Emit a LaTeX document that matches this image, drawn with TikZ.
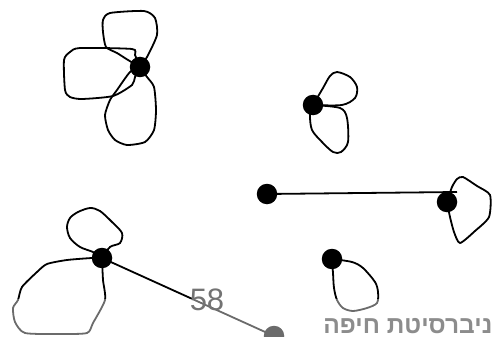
\documentclass[tikz,border=0pt]{standalone}
\usepackage{fontspec}
\setmainfont{Liberation Sans}
\newfontfamily\hebfont[Script=Hebrew]{Liberation Sans}
\TeXXeTstate=1
\usetikzlibrary{backgrounds}
\begin{document}
\begin{tikzpicture}[x=1pt,y=-1pt,
  dot/.style={circle,fill=black,inner sep=0pt,minimum size=20.5pt},
  loopline/.style={line width=1.8pt,black},
  edgeline/.style={line width=1.8pt,black}]
\useasboundingbox (0,0) rectangle (493,337);
% vertices
\node[dot] (n1) at (140,67) {};
\node[dot] (n2) at (313,105) {};
\node[dot] (n3) at (267,194) {};
\node[dot] (n4) at (447,202) {};
\node[dot] (n5) at (102,258) {};
\node[dot] (n6) at (274,336) {};
\node[dot] (n7) at (332,259) {};
\coordinate (e4) at (457,192);
\begin{scope}[on background layer]
% node 1 loops
\draw[loopline] plot[smooth,tension=0.4] coordinates {(n1.center) (147,57) (157,35) (155,18) (144,11) (110,13) (103,20) (103,32) (106,47) (117,53) (128,60) (n1.center)};
\draw[loopline] plot[smooth,tension=0.4] coordinates {(n1.center) (135,55) (132,49) (80,48) (70,52) (64,60) (65,90) (70,97) (82,99) (113,96) (132,85) (135,77) (n1.center)};
\draw[loopline] plot[smooth,tension=0.4] coordinates {(n1.center) (147,77) (154,87) (156,110) (154,130) (145,142) (127,145) (115,140) (108,130) (105,115) (110,100) (117,90) (130,72) (n1.center)};
% node 2 loops
\draw[loopline] plot[smooth,tension=0.5] coordinates {(n2.center) (323,88) (330,76) (337,72) (350,77) (357,87) (355,98) (342,105) (n2.center)};
\draw[loopline] plot[smooth,tension=0.5] coordinates {(n2.center) (340,108) (347,118) (348,142) (341,152) (333,152) (322,142) (312,130) (310,115) (n2.center)};
% edge 3-4 and loop of 4
\draw[edgeline] (n3.center) -- (e4);
\draw[loopline] plot[smooth,tension=0.4] coordinates {(n4.center) (452,187) (457,179) (463,177) (477,186) (490,195) (489,217) (475,231) (460,243) (454,232) (450,217) (n4.center)};
% node 5 loops and edge
\draw[loopline] plot[smooth,tension=0.5] coordinates {(n5.center) (93,252) (80,247) (70,238) (67,227) (70,218) (78,212) (90,208) (100,211) (112,222) (122,233) (120,243) (110,247) (n5.center)};
\draw[loopline] plot[smooth,tension=0.4] coordinates {(n5.center) (92,258) (67,260) (47,264) (37,272) (22,287) (18,300) (13,308) (15,322) (25,333) (60,334) (87,333) (93,323) (105,300) (103,280) (n5.center)};
\draw[edgeline] (n5.center) -- (n6.center);
% node 7 loop
\draw[loopline] plot[smooth,tension=0.5] coordinates {(n7.center) (352,262) (363,268) (375,282) (378,292) (377,303) (367,308) (353,311) (343,308) (337,300) (334,288) (333,273) (n7.center)};
\end{scope}
% footer overlay
\fill[white,opacity=0.42] (0,299) rectangle (493,337);
\node[text=black!55,font=\fontsize{31}{31}\selectfont,inner sep=0pt] (pn) at (207,300) {58};
\node[text=black!45,font=\hebfont\bfseries\fontsize{24.5}{24.5}\selectfont,inner sep=0pt,anchor=base east] (uni) at (492.5,333) {\beginR ניברסיטת חיפה\endR};
\end{tikzpicture}
\end{document}
